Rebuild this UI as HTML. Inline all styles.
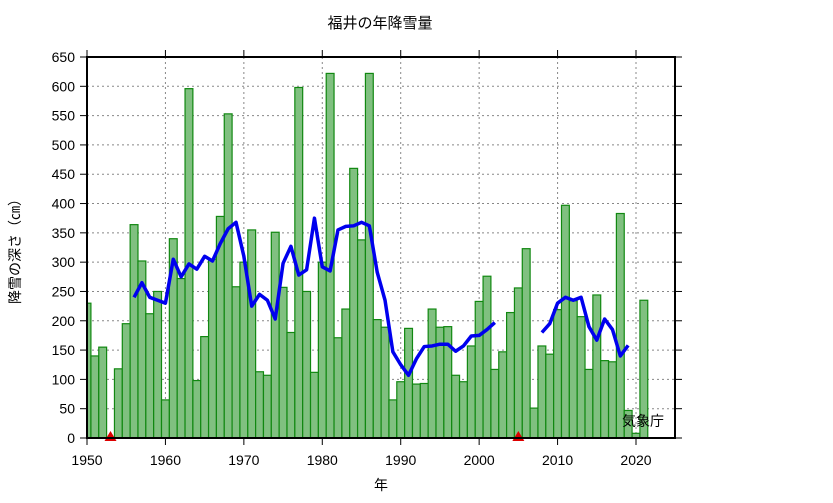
<!DOCTYPE html>
<html><head><meta charset="utf-8"><style>
body{margin:0;background:#fff}
svg text{font-family:"Liberation Sans","Noto Sans CJK JP",sans-serif;fill:#000}
</style></head><body>
<svg id="chart" width="833" height="498" viewBox="0 0 833 498" xmlns="http://www.w3.org/2000/svg">
<text x="380" y="28" font-size="15" text-anchor="middle">福井の年降雪量</text>
<text transform="translate(20,248) rotate(-90)" font-size="14" text-anchor="middle">降雪の深さ（㎝）</text>
<text x="381" y="490" font-size="14" text-anchor="middle">年</text>
<g id="grid"></g>
<g id="bars"></g>
<g id="line"></g>
<g id="axes"></g>
<text x="622" y="426" font-size="14">気象庁</text>
</svg>
<script>
const years=[1950,1951,1952,1953,1954,1955,1956,1957,1958,1959,1960,1961,1962,1963,1964,1965,1966,1967,1968,1969,1970,1971,1972,1973,1974,1975,1976,1977,1978,1979,1980,1981,1982,1983,1984,1985,1986,1987,1988,1989,1990,1991,1992,1993,1994,1995,1996,1997,1998,1999,2000,2001,2002,2003,2004,2005,2006,2007,2008,2009,2010,2011,2012,2013,2014,2015,2016,2017,2018,2019,2020,2021];
const snow=[230,140,155,null,118,195,364,302,212,250,65,340,272,596,98,173,305,378,553,258,300,355,113,107,351,257,180,598,250,112,300,622,171,220,460,338,622,202,189,65,96,187,92,93,220,189,190,107,96,157,233,276,117,147,214,256,323,51,157,143,219,397,234,207,117,244,132,130,383,47,8,235];
const missingYears=[1953,2005];
const avgYears1=[1956,1957,1958,1959,1960,1961,1962,1963,1964,1965,1966,1967,1968,1969,1970,1971,1972,1973,1974,1975,1976,1977,1978,1979,1980,1981,1982,1983,1984,1985,1986,1987,1988,1989,1990,1991,1992,1993,1994,1995,1996,1997,1998,1999,2000,2001,2002];
const avg1=[240,265,240,235,230,305,275,297,288,310,302,332,357,368,310,225,245,235,203,298,327,278,287,375,292,285,355,361,362,368,362,283,235,147,125,107,135,156,157,160,160,148,157,174,175,185,197];
const avgYears2=[2008,2009,2010,2011,2012,2013,2014,2015,2016,2017,2018,2019];
const avg2=[180,195,230,240,235,240,190,167,203,185,140,158];
const yTicks=[0,50,100,150,200,250,300,350,400,450,500,550,600,650];
const xTicks=[1950,1960,1970,1980,1990,2000,2010,2020];
const L=87,R=675,T=57,B=438;
const X=y=>L+(y-1950)*(636-87)/70;
const Y=v=>B-v*(B-T)/650;
const NS='http://www.w3.org/2000/svg';
function mk(tag,attrs,parent){const e=document.createElementNS(NS,tag);for(const k in attrs)e.setAttribute(k,attrs[k]);document.getElementById(parent).appendChild(e);return e;}
yTicks.forEach(t=>{
 const g=mk('line',{x1:L,x2:R,y1:Y(t),y2:Y(t),stroke:'#888','stroke-dasharray':'2,3','stroke-width':1},'grid');
 
 
});
xTicks.forEach(t=>{
 const g=mk('line',{x1:X(t),x2:X(t),y1:T,y2:B,stroke:'#888','stroke-dasharray':'2,3','stroke-width':1},'grid');
 
 
});
const bw=(X(1951)-X(1950));
years.forEach((yr,i)=>{
 const v=snow[i]; if(v==null)return;
 let x0=X(yr)-bw/2, x1=X(yr)+bw/2; if(x0<L)x0=L;
 const r=mk('rect',{x:x0,y:Y(v),width:x1-x0,height:B-Y(v),fill:'#80c080',stroke:'#118811','stroke-width':1.2},'bars');
 
 
});
function poly(ys,vs){
 const p=mk('polyline',{points:ys.map((y,i)=>X(y)+','+Y(vs[i])).join(' '),fill:'none',stroke:'#0000ee','stroke-width':3.5,'stroke-linejoin':'round'},'line');
 
 
}
poly(avgYears1,avg1);poly(avgYears2,avg2);
missingYears.forEach(yr=>{
 const x=X(yr);
 const t=mk('polygon',{points:`${x-6},${B+3} ${x+6},${B+3} ${x},${B-7}`,fill:'#dd0000'},'axes');
 
 
});
const fr=mk('rect',{x:L,y:T,width:R-L,height:B-T,fill:'none',stroke:'#000','stroke-width':2},'axes');


yTicks.forEach(t=>{
 mk('line',{x1:L-7,x2:L,y1:Y(t),y2:Y(t),stroke:'#000'},'axes');
 mk('line',{x1:R,x2:R+7,y1:Y(t),y2:Y(t),stroke:'#000'},'axes');
 const tx=mk('text',{x:L-12,y:Y(t)+5,'font-size':14,'text-anchor':'end'},'axes');
 tx.textContent=t;
 
 
});
xTicks.forEach(t=>{
 mk('line',{x1:X(t),x2:X(t),y1:B,y2:B+7,stroke:'#000'},'axes');
 mk('line',{x1:X(t),x2:X(t),y1:T-7,y2:T,stroke:'#000'},'axes');
 const tx=mk('text',{x:X(t),y:B+27,'font-size':14,'text-anchor':'middle'},'axes');
 tx.textContent=t;
 
 
});
</script>
</body></html>
